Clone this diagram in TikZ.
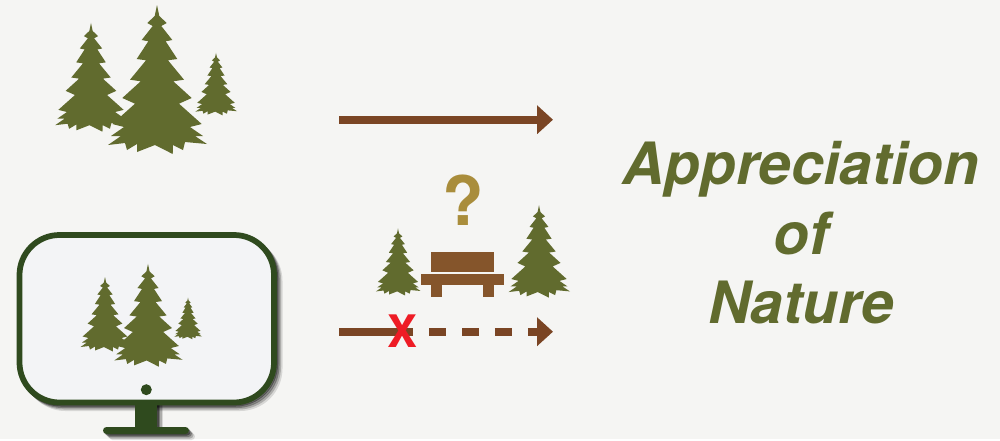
\documentclass[tikz,border=0pt]{standalone}
\usepackage{fontspec}
\setmainfont{TeX Gyre Heros}
\usetikzlibrary{arrows.meta}
\definecolor{paper}{HTML}{F5F5F3}
\definecolor{pine}{HTML}{616B2E}
\definecolor{screen}{HTML}{F3F4F6}
\definecolor{frame}{HTML}{2F4A1E}
\definecolor{wood}{HTML}{7A4524}
\definecolor{bench}{HTML}{85552B}
\definecolor{query}{HTML}{A98D3B}
\definecolor{cross}{HTML}{EE1C25}
\tikzset{
  tree/.pic={
    \fill[pine] (0,148)--(2.3,137)--(9.7,130)--(4.3,127)--(15.3,113)--(8.7,111.7)--(20.3,94)--(11,92.7)--(27,73.3)--(16.3,71.7)--(34.7,55)--(22,49.3)--(44.7,29)--(33,26)--(46,17)--(38,17)--(50,9)--(28,11)--(26,3)--(16,8)--(15.7,-1)--(-2,8)--(-20,1)--(-20,9)--(-30,3)--(-32,10)--(-49,8)--(-36,17)--(-46,17)--(-33,26)--(-44.7,29)--(-22,49.3)--(-34.7,55)--(-16.3,71.7)--(-27,73.3)--(-11,92.7)--(-20.3,94)--(-8.7,111.7)--(-15.3,113)--(-4.3,127)--(-9.7,130)--(-2.3,137)--cycle;
  },
  ar/.style={line width=0.16cm,draw=wood},
  head/.style={-{Triangle[length=0.32cm,width=0.56cm]}},
  bigtxt/.style={font=\fontsize{33.2}{39.5}\selectfont\bfseries\itshape,text=pine,align=center},
}
\begin{document}
\begin{tikzpicture}[x=0.02cm,y=0.02cm]
\fill[paper] (0,0) rectangle (1000,-439);
% forest
\pic[scale=0.73] (forestleft) at (91,-131) {tree};
\pic[scale=0.42] (forestright) at (216,-115) {tree};
\pic (forestmid) at (157,-153) {tree};
% monitor
\foreach \off/\op in {6/0.12,4.5/0.2,3/0.3,1.5/0.4}{
  \draw[black,opacity=\op,line width=0.1cm,rounded corners=0.8cm] (19.5+\off,-235-\off) rectangle (274+\off,-402.5-\off);
  \fill[black,opacity=\op] (135+\off,-405) rectangle (157+\off,-427);
  \fill[black,opacity=\op,rounded corners=0.07cm] (103+\off,-427-\off) rectangle (189+\off,-434-\off);
}
\fill[frame] (135,-404) rectangle (157,-428);
\fill[frame,rounded corners=0.07cm] (103,-427) rectangle (189,-434);
\draw[frame,fill=screen,line width=0.115cm,rounded corners=0.8cm] (19.5,-235) rectangle (274,-402.5);
\fill[frame] (146.3,-389.7) circle (5.5);
\pic[scale=0.5] (screenleft) at (105,-351) {tree};
\pic[scale=0.28] (screenright) at (188,-339) {tree};
\pic[scale=0.69] (screenmid) at (148,-366) {tree};
% bench
\pic[scale=0.45] (parkleft) at (398,-295) {tree};
\pic[scale=0.62] (parkright) at (539,-297) {tree};
\fill[bench] (431,-252) rectangle (494,-272);
\fill[bench] (421,-274) rectangle (504,-285);
\fill[bench] (431,-285) rectangle (442,-297);
\fill[bench] (483,-285) rectangle (494,-297);
\node[font=\fontsize{38.7}{40}\selectfont\bfseries,text=query,inner sep=0pt] (question) at (463,-200) {?};
% arrows
\coordinate (topstart) at (339,-119.7);
\coordinate (topend) at (553,-119.7);
\coordinate (lowstart) at (339,-331.7);
\coordinate (lowcut) at (413,-331.7);
\coordinate (lowdash) at (429,-331.7);
\coordinate (lowend) at (553,-331.7);
\draw[ar,head] (topstart) -- (topend);
\draw[ar] (lowstart) -- (lowcut);
\draw[ar,head,dash pattern=on 0.34cm off 0.32cm] (lowdash) -- (lowend);
\node[font=\fontsize{25.5}{27}\selectfont\bfseries,text=cross,inner sep=0pt] (nope) at (402.5,-331.5) {X};
\node[bigtxt,inner sep=0pt] (label) at (801,-233) {Appreciation\\of\\Nature};
\end{tikzpicture}
\end{document}
